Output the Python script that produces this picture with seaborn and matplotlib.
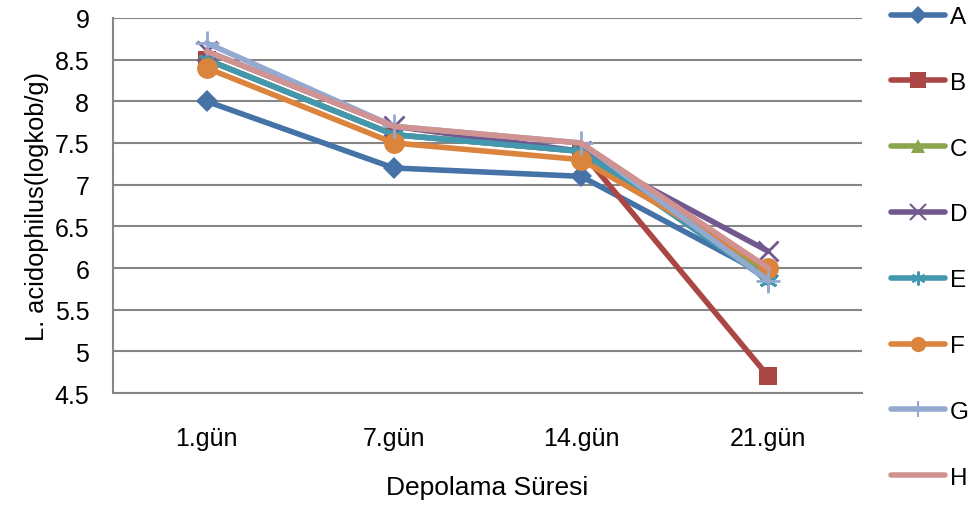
import matplotlib
matplotlib.use("Agg")
import matplotlib.pyplot as plt
import seaborn as sns
import pandas as pd

categories = ["1.gün", "7.gün", "14.gün", "21.gün"]
series_names = ["A", "B", "C", "D", "E", "F", "G", "H"]
A = [8.0, 7.2, 7.1, 5.9]
B = [8.5, 7.6, 7.4, 4.7]
C = [8.5, 7.6, 7.4, 5.95]
D = [8.6, 7.7, 7.4, 6.2]
E = [8.5, 7.6, 7.4, 5.85]
F = [8.4, 7.5, 7.3, 6.0]
G = [8.7, 7.7, 7.5, 5.85]
H = [8.6, 7.7, 7.5, 6.0]
values = [A, B, C, D, E, F, G, H]
yticks = [4.5, 5, 5.5, 6, 6.5, 7, 7.5, 8, 8.5, 9]
ytick_labels = ["4.5", "5", "5.5", "6", "6.5", "7", "7.5", "8", "8.5", "9"]

colors = ["#4573A7", "#AA4643", "#89A54E", "#71588F", "#4198AF", "#DB843D", "#93A9CF", "#D19392"]
markers = ["D", "s", "^", "x", (6, 2, 0), "o", "+", ""]
msizes = [11, 13, 12, 14, 13, 15, 17, 0]
leg_msizes = [9, 11, 10, 11, 10, 11, 12, 0]

rows = []
for name, vals in zip(series_names, values):
    for cat, v in zip(categories, vals):
        rows.append({"Depolama Süresi": cat, "val": v, "seri": name})
df = pd.DataFrame(rows)

sns.set_style("white")
plt.rcParams["font.family"] = ["Liberation Sans", "DejaVu Sans"]
plt.rcParams["text.color"] = "black"
plt.rcParams["axes.labelcolor"] = "black"
plt.rcParams["xtick.labelcolor"] = "black"
plt.rcParams["ytick.labelcolor"] = "black"

fig = plt.figure(figsize=(9.74, 5.06), dpi=100)
ax = fig.add_axes([0.116, 0.2213, 0.769, 0.7412])

stroke = ["x", "+", (6, 2, 0)]
handles = []
for i, name in enumerate(series_names):
    sub = df[df["seri"] == name]
    mk = markers[i] if markers[i] != "" else None
    sns.lineplot(data=sub, x="Depolama Süresi", y="val", ax=ax, color=colors[i],
                 linewidth=4.0, marker=mk,
                 markersize=msizes[i], markeredgewidth=2 if markers[i] in stroke else 0,
                 markeredgecolor=colors[i], sort=False, legend=False, zorder=3 + i)
    h, = ax.plot([], [], color=colors[i], linewidth=4.0, marker=mk,
                 markersize=leg_msizes[i], markeredgewidth=1.5 if markers[i] in stroke else 0,
                 markeredgecolor=colors[i], label=name)
    handles.append(h)

ax.set_xlim(-0.5, 3.5)
ax.set_ylim(4.5, 9)
ax.set_yticks(yticks)
ax.set_yticklabels(ytick_labels)
ax.set_xticks(range(len(categories)))
ax.set_xticklabels(categories)
ax.set_xticks([-0.5, 0.5, 1.5, 2.5, 3.5], minor=True)
ax.tick_params(axis="x", which="major", length=0, pad=24, labelsize=18)
ax.tick_params(axis="x", which="minor", length=8, color="#868686", width=1.5, direction="out")
ax.tick_params(axis="y", length=8, color="#868686", width=1.5, direction="out", labelsize=18, pad=9)
ax.yaxis.grid(True, color="#868686", linewidth=1.5)
ax.set_axisbelow(True)
for s in ["top", "right"]:
    ax.spines[s].set_visible(False)
for s in ["left", "bottom"]:
    ax.spines[s].set_color("#868686")
    ax.spines[s].set_linewidth(1.5)

ax.set_xlabel("Depolama Süresi", fontsize=19, labelpad=18)
ax.set_ylabel("L. acidophilus(logkob/g)", fontsize=18.3, labelpad=4)

fig.legend(handles=handles, loc="upper left", bbox_to_anchor=(0.905, 1.005),
           frameon=False, fontsize=17.5, labelspacing=1.8, handlelength=2.2,
           handletextpad=0.2, borderaxespad=0)

fig.savefig("out.png", dpi=100)
